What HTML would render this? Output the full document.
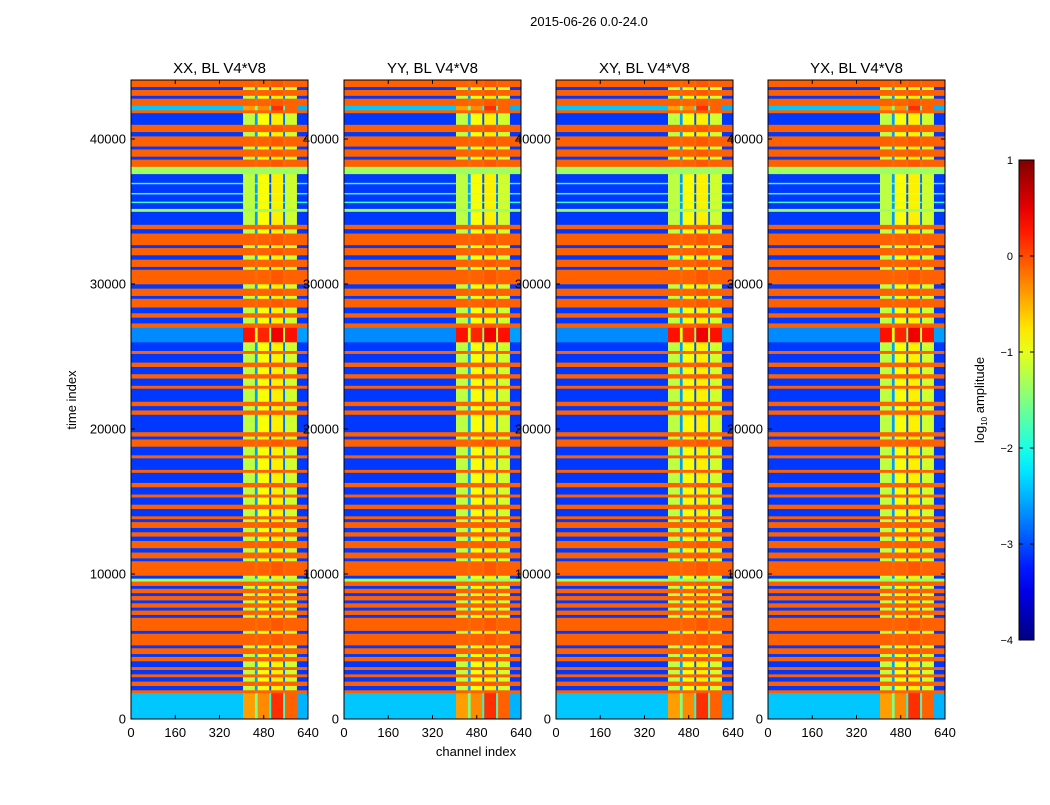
<!DOCTYPE html>
<html><head><meta charset="utf-8"><style>
body{margin:0;background:#fff}
svg text{font-family:"Liberation Sans",sans-serif;fill:#000}
</style></head><body>
<svg id="fig" width="1050" height="800" xmlns="http://www.w3.org/2000/svg">
<rect width="1050" height="800" fill="#fff"/>
<text x="589" y="26" font-size="13" text-anchor="middle">2015-06-26 0.0-24.0</text>
<text x="476" y="756" font-size="13" text-anchor="middle">channel index</text>
<text x="76" y="400" font-size="13" text-anchor="middle" transform="rotate(-90 76 400)">time index</text>
<g id="panels"></g>
<g id="cbar"></g>
</svg>
<script>
const panelTitles=["XX, BL V4*V8","YY, BL V4*V8","XY, BL V4*V8","YX, BL V4*V8"];
const xTicks=[0,160,320,480,640];
const yTicks=[0,10000,20000,30000,40000];
const cbTicks=[1,0,-1,-2,-3,-4];
const tMax=44070, chMax=640;
const segStart=[0,1800,2000,2300,2600,2900,3100,3400,3600,4000,
4300,4500,4900,5100,5900,6100,7000,7200,7500,7700,
8000,8200,8500,8700,9000,9200,9500,9700,9900,10900,
11100,11500,11800,12300,12600,12900,13200,13600,13800,14000,
14500,14800,15300,15500,16000,16300,17000,17200,18000,18200,
18800,19300,19500,19800,21000,21300,21600,21900,22800,23000,
23500,23800,24300,24600,25200,25400,26000,27000,27300,27700,
28000,28400,29000,29200,29700,30000,31000,31200,31700,32000,
32500,32700,33500,33800,34100,34400,35000,35200,35600,35700,36200,36300,36900,37000,37600,38100,
38600,38800,39300,39500,40200,40500,41000,41800,42000,42300,
42800,43000,43400,43600];
const segType=['c','o','b','o','b','o','b','o','b','o',
'b','o','b','o','b','o','b','o','b','o',
'b','o','b','o','b','o','g','b','o','b',
'o','b','o','b','o','b','o','b','o','b',
'o','b','o','b','o','b','o','b','o','b',
'o','b','o','b','o','b','o','b','o','b',
'o','b','o','b','o','b','r','o','b','o',
'b','o','b','o','b','o','b','o','b','o',
'b','o','b','o','b','b','g','b','l','b','l','b','l','b','g','o',
'b','o','b','o','b','o','b','o','c','o',
'b','o','b','o'];
const colEdges=[0,405,448,458,500,507,550,557,600,640];
const typeValues={
  o:[-0.1,-0.1,-0.15,-0.1,-0.15,-0.05,-0.15,-0.1,-0.1],
  b:[-3.1,-1.2,-2.6,-0.9,-3.0,-0.8,-2.8,-1.1,-3.1],
  c:[-2.4,-0.4,-1.5,-0.3,-2.0,0.15,-1.8,-0.1,-2.5],
  r:[-2.7,0.3,-1.0,0.2,-1.5,0.45,-1.2,0.3,-2.6],
  g:[-1.35,-1.35,-1.35,-1.35,-1.35,-1.35,-1.35,-1.35,-1.35],
  l:[-1.8,-1.2,-1.8,-1.0,-2.0,-1.0,-2.0,-1.2,-1.9]
};
const NS="http://www.w3.org/2000/svg";
function jet(v){const x=Math.max(0,Math.min(1,(v+4)/5));
 const f=c=>Math.round(255*Math.max(0,Math.min(1,c)));
 const r=f(Math.min(4*x-1.5,-4*x+4.5)),g=f(Math.min(4*x-0.5,-4*x+3.5)),b=f(Math.min(4*x+0.5,-4*x+2.5));
 return `rgb(${r},${g},${b})`;}
function el(tag,attrs,parent){const e=document.createElementNS(NS,tag);for(const k in attrs)e.setAttribute(k,attrs[k]);parent.appendChild(e);return e;}
const panelX=[131,344,556,768],pw=177,yTop=80,yBot=719;
const yS=t=>yBot-t/tMax*(yBot-yTop);
const panels=document.getElementById('panels');
panelX.forEach((x0,p)=>{
 const xS=c=>x0+c/chMax*pw;
 const g=el('g',{},panels);
 
 
 segStart.forEach((s,i)=>{
  const e=i+1<segStart.length?segStart[i+1]:tMax;
  const vals=typeValues[segType[i]]||typeValues.b;
  for(let c=0;c<vals.length;c++){
   const r=el('rect',{x:xS(colEdges[c]),y:yS(e),width:xS(colEdges[c+1])-xS(colEdges[c])+0.3,height:yS(s)-yS(e)+0.3,fill:jet(vals[c])},g);
   
   
  }
 });
 el('rect',{x:x0,y:yTop,width:pw,height:yBot-yTop,fill:'none',stroke:'#000','stroke-width':1},g);
 const t=el('text',{x:x0+pw/2,y:73,'font-size':15,'text-anchor':'middle'},g);t.textContent=panelTitles[p];
 
 
 xTicks.forEach(v=>{const x=xS(v);
  el('line',{x1:x,x2:x,y1:yBot,y2:yBot-4,stroke:'#000'},g);el('line',{x1:x,x2:x,y1:yTop,y2:yTop+4,stroke:'#000'},g);
  const tx=el('text',{x:x,y:yBot+18,'font-size':13,'text-anchor':'middle'},g);tx.textContent=v;
  
  });
 yTicks.forEach(v=>{const y=yS(v);
  el('line',{x1:x0,x2:x0+4,y1:y,y2:y,stroke:'#000'},g);el('line',{x1:x0+pw,x2:x0+pw-4,y1:y,y2:y,stroke:'#000'},g);
  const tx=el('text',{x:x0-5,y:y+4.5,'font-size':13,'text-anchor':'end'},g);tx.textContent=v;
  
  });
});
const cb=document.getElementById('cbar'),cx=1019,cw=15,ct=160,cbo=640;
const defs=el('defs',{},cb);const lg=el('linearGradient',{id:'jg',x1:0,y1:1,x2:0,y2:0},defs);
for(let i=0;i<=20;i++)el('stop',{offset:i/20,'stop-color':jet(-4+5*i/20)},lg);
el('rect',{x:cx,y:ct,width:cw,height:cbo-ct,fill:'url(#jg)',stroke:'#000'},cb);
cbTicks.forEach(v=>{const y=cbo-(v+4)/5*(cbo-ct);
 el('line',{x1:cx,x2:cx+4,y1:y,y2:y,stroke:'#000'},cb);el('line',{x1:cx+cw,x2:cx+cw-4,y1:y,y2:y,stroke:'#000'},cb);
 const tx=el('text',{x:1013,y:y+4,'font-size':11,'text-anchor':'end'},cb);tx.textContent=v<0?'\u2212'+(-v):v;
 
 });
const lab=el('text',{x:984,y:400,'font-size':13,'text-anchor':'middle',transform:'rotate(-90 984 400)'},cb);
lab.innerHTML='log<tspan font-size="8" dy="3">10</tspan><tspan dy="-3"> amplitude</tspan>';


</script>
</body></html>
